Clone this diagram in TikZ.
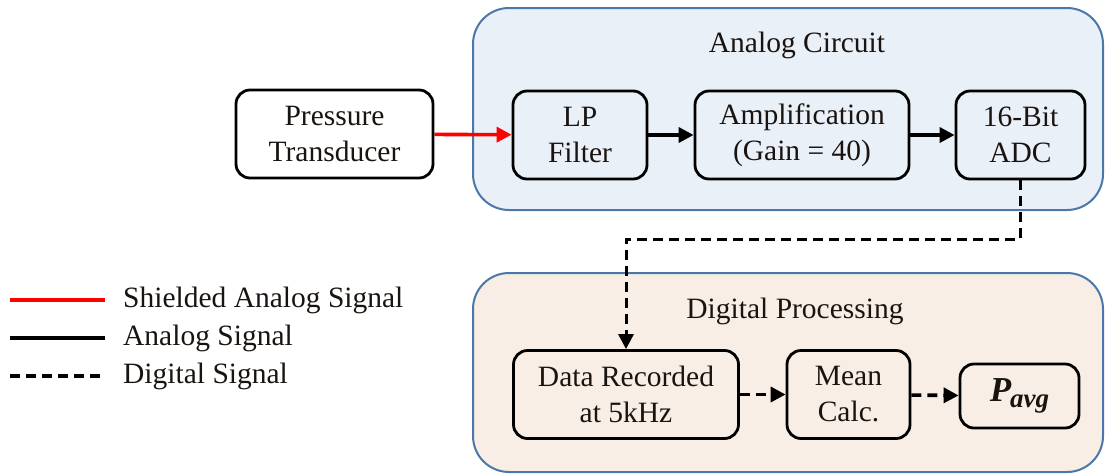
\documentclass[tikz,border=0pt]{standalone}
\usepackage{fontspec}
\setmainfont{Liberation Serif}
\usetikzlibrary{arrows.meta}
\definecolor{cblue}{HTML}{EAF0F8}
\definecolor{cpeach}{HTML}{F8EEE6}
\definecolor{cborder}{HTML}{4A78A8}
\definecolor{ctext}{HTML}{1A1410}
\begin{document}
\begin{tikzpicture}[x=1pt,y=-1pt, font=\fontsize{29.5}{36}\selectfont, text=ctext,
  blk/.style={draw=black, line width=2.8pt, rounded corners=14pt, align=center, inner sep=0pt},
  grp/.style={draw=cborder, line width=2pt, rounded corners=36pt, inner sep=0pt},
  arr/.style={line width=3.6pt, -{Triangle[length=15pt,width=15pt]}},
  dig/.style={arr, dash pattern=on 10pt off 6pt},
  leg/.style={line width=3.4pt},
  legtxt/.style={anchor=west, inner sep=0pt}]
\useasboundingbox (0,0) rectangle (1109,475);
% groups
\node[grp, fill=cblue, minimum width=630pt, minimum height=202pt] (ac) at (788,109) {};
\node[grp, fill=cpeach, minimum width=630pt, minimum height=199pt] (dp) at (788,372.5) {};
\node (act) at (797,45) {Analog Circuit};
\node (dpt) at (795,311) {Digital Processing};
% blocks
\node[blk, minimum width=197pt, minimum height=88pt] (pt) at (334.5,134) {Pressure\\Transducer};
\node[blk, minimum width=134pt, minimum height=88pt] (lp) at (580,135) {LP\\Filter};
\node[blk, minimum width=214pt, minimum height=88pt] (amp) at (802,135) {Amplification\\(Gain = 40)};
\node[blk, minimum width=129pt, minimum height=88pt] (adc) at (1020.5,135) {16-Bit\\ADC};
\node[blk, minimum width=225pt, minimum height=88pt] (dr) at (626,394.5) {Data Recorded\\at 5kHz};
\node[blk, minimum width=123pt, minimum height=88pt] (mc) at (848.5,394.5) {Mean\\Calc.};
\node[blk, minimum width=119pt, minimum height=64pt] (pavg) at (1019.5,396)
  {\fontsize{35}{38}\selectfont\bfseries\itshape P\kern-1pt\raisebox{-6pt}{\fontsize{27}{28}\selectfont avg}};
% connectors
\draw[arr, red] (pt) -- (lp);
\draw[arr] (lp) -- (amp);
\draw[arr] (amp) -- (adc);
\coordinate (mid) at (800,239);
\draw[dig, line width=3pt] (adc.south) |- (mid) -| (dr.north);
\draw[dig] (dr) -- (mc);
\draw[dig] (mc) -- (pavg);
% legend
\coordinate (l1a) at (10,300); \coordinate (l1b) at (105,300);
\coordinate (l2a) at (10,338); \coordinate (l2b) at (105,338);
\coordinate (l3a) at (10,376); \coordinate (l3b) at (105,376);
\draw[leg, red] (l1a) -- (l1b);
\draw[leg] (l2a) -- (l2b);
\draw[leg, dash pattern=on 10pt off 6pt] (l3a) -- (l3b);
\node[legtxt] (t1) at (123,300) {Shielded Analog Signal};
\node[legtxt] (t2) at (123,338) {Analog Signal};
\node[legtxt] (t3) at (123,376) {Digital Signal};
\end{tikzpicture}
\end{document}
